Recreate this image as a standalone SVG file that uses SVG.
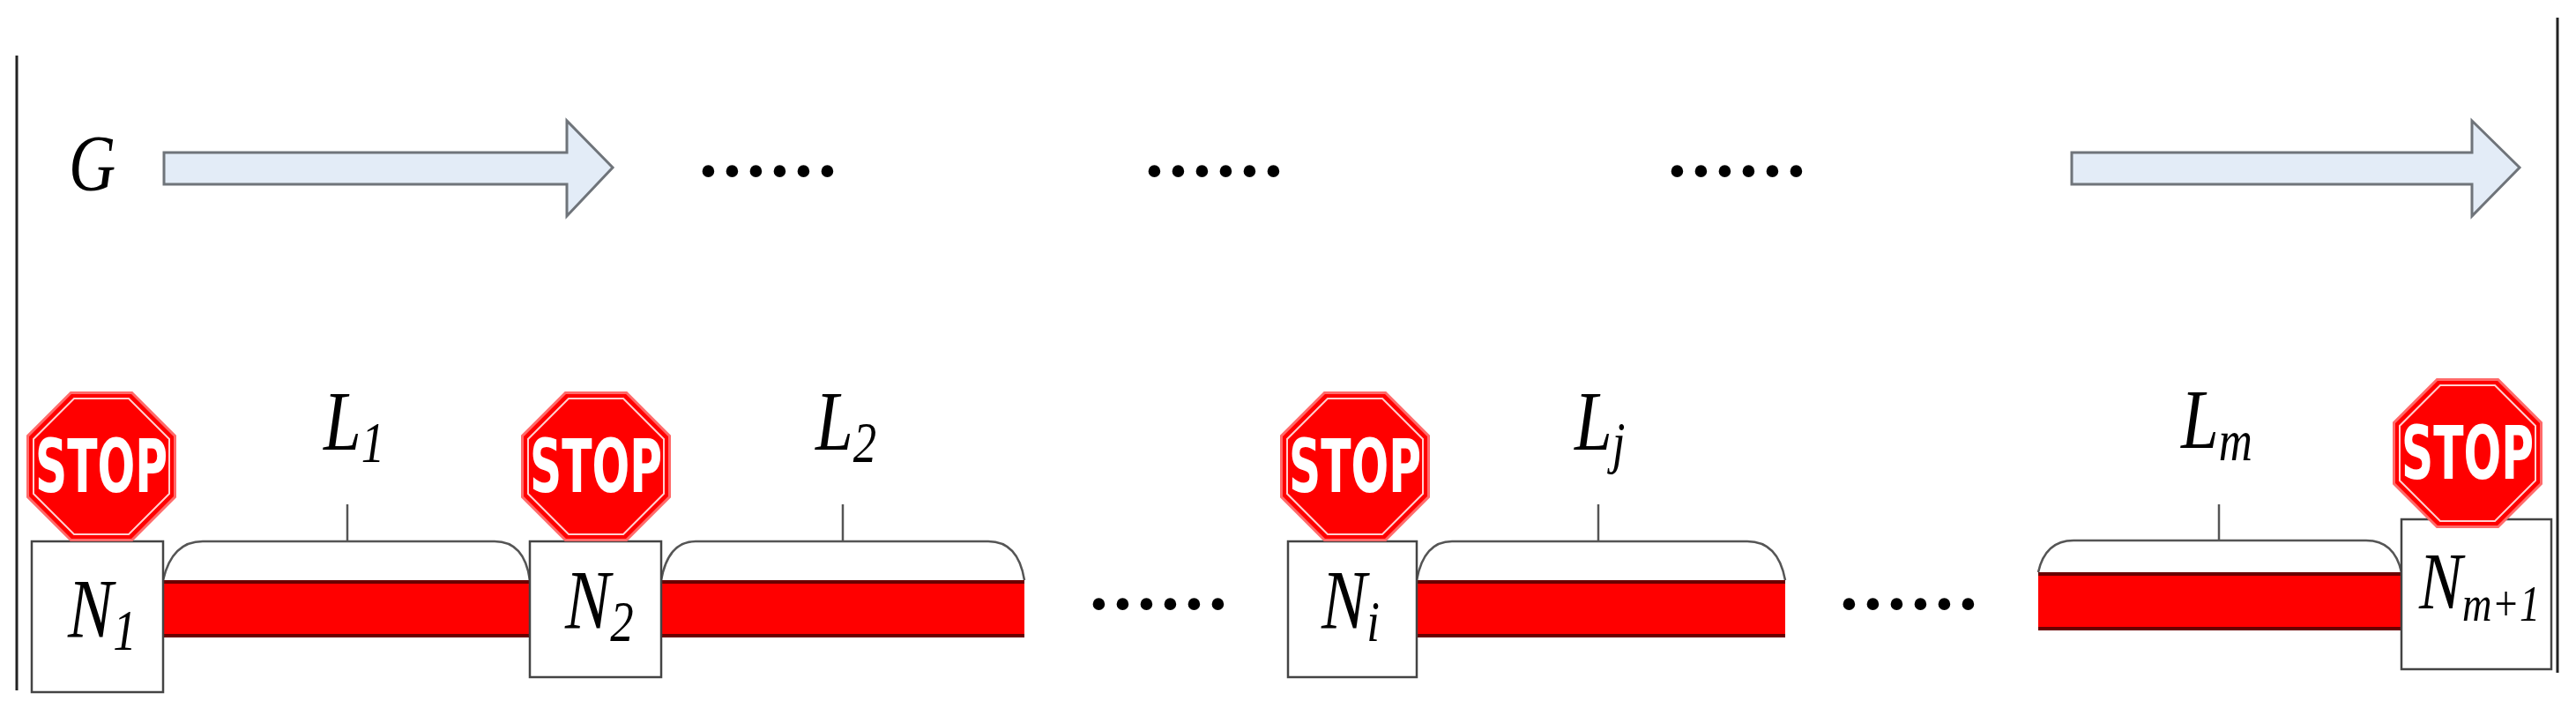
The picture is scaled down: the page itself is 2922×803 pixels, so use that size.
<svg xmlns="http://www.w3.org/2000/svg" width="2922" height="803" viewBox="0 0 2922 803">
<style>
.frame{stroke:#222;stroke-width:3}
.arrow{fill:#e3ecf7;stroke:#6f747a;stroke-width:3}
.box{fill:#fff;stroke:#444;stroke-width:2.5}
.bar{fill:#ff0000}
.barline{stroke:#6a0000;stroke-width:4}
.brace{fill:none;stroke:#555;stroke-width:2.5}
.tick{stroke:#555;stroke-width:2.5}
.oct{fill:#ff0000;stroke:#ff6a6a;stroke-width:3}
.octin{fill:none;stroke:#ffd0d0;stroke-width:2}
.stop{font-family:"DejaVu Sans Condensed","DejaVu Sans",sans-serif;font-weight:bold;font-size:84px;fill:#fff}
.m{font-family:"Liberation Serif","Times New Roman","DejaVu Serif",serif;font-style:italic;fill:#000}
.dots{font-family:"Liberation Serif","DejaVu Serif",serif;font-style:italic;font-weight:bold;font-size:84px;letter-spacing:6px;fill:#000}
</style>
<defs>
<g id="stopsign">
<polygon class="oct" points="-34.6,-83.5 34.6,-83.5 83.5,-34.6 83.5,34.6 34.6,83.5 -34.6,83.5 -83.5,34.6 -83.5,-34.6"/>
<polygon class="octin" points="-31,-77 31,-77 77,-31 77,31 31,77 -31,77 -77,31 -77,-31"/>
<text class="stop" x="0" y="29" text-anchor="middle" textLength="150" lengthAdjust="spacingAndGlyphs">STOP</text>
</g>
</defs>
<g id="frame">
<line class="frame" x1="19" y1="63" x2="19" y2="783"/>
<line class="frame" x1="2901" y1="20" x2="2901" y2="763"/>
</g>
<g id="G"><text class="m" transform="translate(78,216) scale(0.8,1)" font-size="92">G</text></g>
<g id="connectors">
<path id="arrow1" class="arrow" d="M186,173 L643,173 L643,137 L695,190 L643,245 L643,209 L186,209 Z"/>
<path id="arrow2" class="arrow" d="M2350,173 L2804,173 L2804,137 L2858,190 L2804,245 L2804,209 L2350,209 Z"/>
</g>
<g id="topdots">
<text class="dots" x="796" y="200">......</text>
<text class="dots" x="1302" y="200">......</text>
<text class="dots" x="1895" y="200">......</text>
</g>
<g id="bottomdots">
<text class="dots" x="1239" y="691">......</text>
<text class="dots" x="2090" y="691">......</text>
</g>
<g id="L1">
<rect class="bar" x="185" y="658" width="416" height="65"/>
<line class="barline" x1="185" y1="660" x2="601" y2="660"/><line class="barline" x1="185" y1="721" x2="601" y2="721"/>
<path class="brace" d="M185,658 Q195,614 230,614 L561,614 Q595,614 601,658"/>
<line class="tick" x1="394" y1="572" x2="394" y2="614"/>
<text class="m" transform="translate(367,510) scale(0.8,1)" font-size="96">L<tspan font-size="66" dy="14">1</tspan></text>
</g>
<g id="L2">
<rect class="bar" x="750" y="658" width="412" height="65"/>
<line class="barline" x1="750" y1="660" x2="1162" y2="660"/><line class="barline" x1="750" y1="721" x2="1162" y2="721"/>
<path class="brace" d="M750,658 Q758,614 789,614 L1121,614 Q1155,614 1162,658"/>
<line class="tick" x1="956" y1="572" x2="956" y2="614"/>
<text class="m" transform="translate(925,510) scale(0.8,1)" font-size="96">L<tspan font-size="66" dy="14">2</tspan></text>
</g>
<g id="Lj">
<rect class="bar" x="1607" y="658" width="418" height="65"/>
<line class="barline" x1="1607" y1="660" x2="2025" y2="660"/><line class="barline" x1="1607" y1="721" x2="2025" y2="721"/>
<path class="brace" d="M1607,658 Q1615,614 1647,614 L1982,614 Q2017,614 2025,658"/>
<line class="tick" x1="1813" y1="572" x2="1813" y2="614"/>
<text class="m" transform="translate(1786,510) scale(0.8,1)" font-size="96">L<tspan font-size="66" dy="14">j</tspan></text>
</g>
<g id="Lm">
<rect class="bar" x="2312" y="649" width="412" height="66"/>
<line class="barline" x1="2312" y1="651" x2="2724" y2="651"/><line class="barline" x1="2312" y1="713" x2="2724" y2="713"/>
<path class="brace" d="M2312,649 Q2320,613 2352,613 L2684,613 Q2716,613 2724,649"/>
<line class="tick" x1="2517" y1="572" x2="2517" y2="613"/>
<text class="m" transform="translate(2474,508) scale(0.8,1)" font-size="96">L<tspan font-size="66" dy="14">m</tspan></text>
</g>
<g id="N1">
<rect class="box" x="36" y="614" width="149" height="171"/>
<use href="#stopsign" x="115" y="529"/>
<text class="m" transform="translate(77,723) scale(0.8,1)" font-size="96">N<tspan font-size="66" dy="14">1</tspan></text>
</g>
<g id="N2">
<rect class="box" x="601" y="614" width="149" height="154"/>
<use href="#stopsign" x="676" y="529"/>
<text class="m" transform="translate(641,713) scale(0.8,1)" font-size="96">N<tspan font-size="66" dy="14">2</tspan></text>
</g>
<g id="Ni">
<rect class="box" x="1461" y="614" width="146" height="154"/>
<use href="#stopsign" x="1537" y="529"/>
<text class="m" transform="translate(1499,713) scale(0.8,1)" font-size="96">N<tspan font-size="66" dy="14">i</tspan></text>
</g>
<g id="Nm1">
<rect class="box" x="2724" y="589" width="170" height="170"/>
<use href="#stopsign" x="2799" y="514"/>
<text class="m" transform="translate(2744,690) scale(0.8,1)" font-size="92">N<tspan font-size="58" dy="14">m+1</tspan></text>
</g>
</svg>
